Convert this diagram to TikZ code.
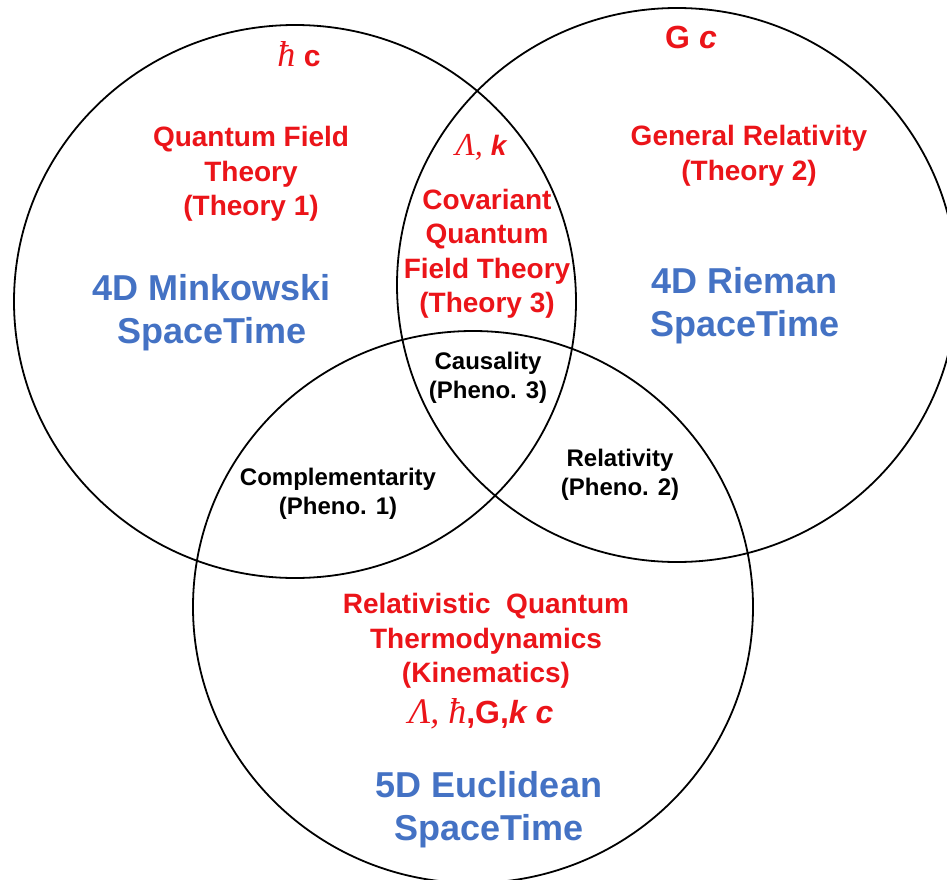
\documentclass[tikz,border=0pt]{standalone}
\usepackage{fontspec}
\setmainfont{Liberation Sans}
\newfontfamily\tms{Liberation Serif}
\usetikzlibrary{shapes.geometric}
\definecolor{tred}{RGB}{235,20,25}
\definecolor{tblue}{RGB}{68,114,196}
\newcommand{\srf}[2]{{\tms\itshape\mdseries\fontsize{#1}{#1}\selectfont #2}}
\begin{document}
\begin{tikzpicture}[x=1pt,y=-1pt,
  ring/.style={ellipse,draw=black,line width=1.8pt,inner sep=0pt},
  redtxt/.style={text=tred,font=\bfseries\fontsize{28}{34.5}\selectfont,align=center,inner sep=0pt},
  bluetxt/.style={text=tblue,font=\bfseries\fontsize{36}{43}\selectfont,align=center,inner sep=0pt},
  blktxt/.style={text=black,font=\bfseries\fontsize{24}{29.5}\selectfont,align=center,inner sep=0pt}]
\useasboundingbox[fill=white] (0,0) rectangle (947,880);
% circles
\node[ring,minimum width=562pt,minimum height=553pt] (L) at (295,301.5) {};
\node[ring,minimum width=560pt,minimum height=554pt] (R) at (677,285) {};
\node[ring,minimum width=560pt,minimum height=552pt] (B) at (473,607) {};
% constants
\node[redtxt,font=\bfseries\fontsize{30}{34}\selectfont] (hc) at (299,54) {\srf{36}{ħ} c};
\node[redtxt,font=\bfseries\fontsize{32}{36}\selectfont] (gc) at (691,37) {G {\itshape c}};
\node[redtxt,font=\bfseries\fontsize{28}{34}\selectfont] (lk) at (481,147) {\srf{32}{Λ,} {\itshape k}};
% theories
\node[redtxt] (t1) at (251,174) {Quantum Field\\Theory\\(Theory 1)};
\node[redtxt] (t2) at (749,156) {General Relativity\\(Theory 2)};
\node[redtxt] (t3) at (487,254) {Covariant\\Quantum\\Field Theory\\(Theory 3)};
\node[redtxt] (t4) at (486,641) {Relativistic\ \ Quantum\\Thermodynamics\\(Kinematics)};
\node[redtxt,font=\bfseries\fontsize{32}{36}\selectfont] (cst) at (481,714) {\srf{36}{Λ, ħ},G,{\itshape k c}};
% spacetimes
\node[bluetxt] (s1) at (212,313) {4D Minkowski\\SpaceTime};
\node[bluetxt] (s2) at (745,306) {4D Rieman\\SpaceTime};
\node[bluetxt] (s3) at (489,810) {5D Euclidean\\SpaceTime};
% phenomena
\node[blktxt] (p3) at (488,378) {Causality\\(Pheno. 3)};
\node[blktxt] (p1) at (338,494) {Complementarity\\(Pheno. 1)};
\node[blktxt] (p2) at (620,475) {Relativity\\(Pheno. 2)};
\end{tikzpicture}
\end{document}
